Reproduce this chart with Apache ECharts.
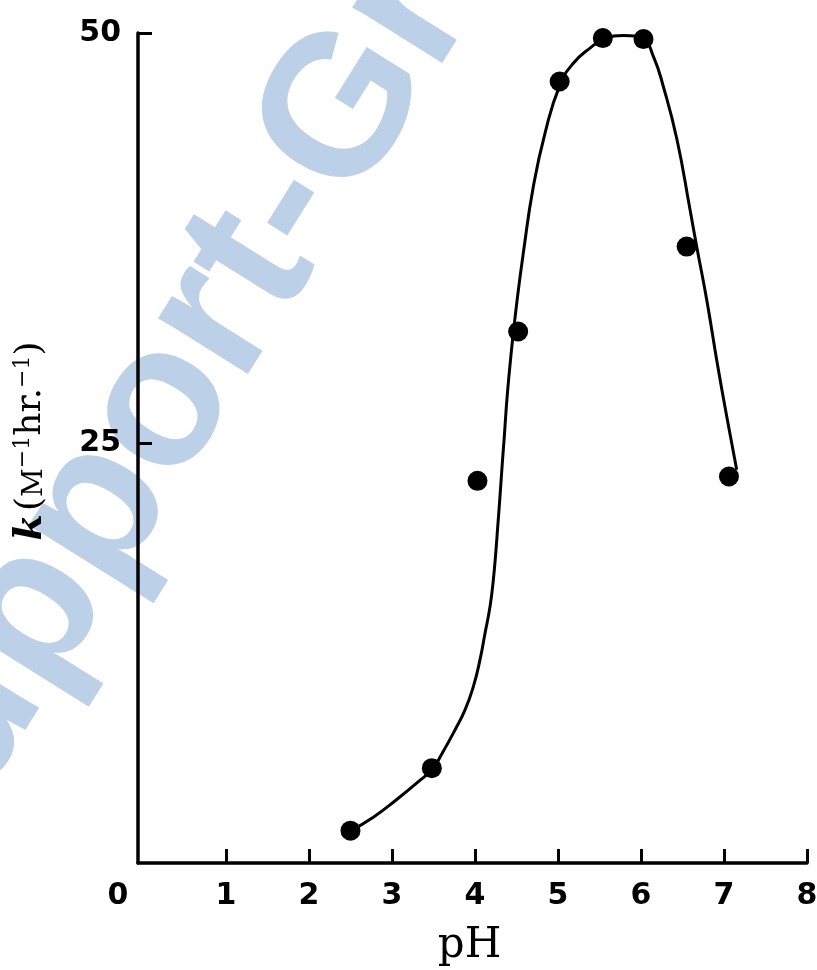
<!DOCTYPE html>
<html>
<head>
<meta charset="utf-8">
<script src="https://cdn.jsdelivr.net/npm/echarts@6/dist/echarts.min.js"></script>
<style>
html,body{margin:0;padding:0;background:#fff;}
#c{width:817px;height:970px;}
</style>
</head>
<body>
<div id="c"></div>
<script>
// measured points
const phPoints = [2.50, 3.48, 4.03, 4.52, 5.02, 5.54, 6.03, 6.55, 7.06];
const kPoints  = [1.37, 5.18, 22.70, 31.80, 47.04, 49.69, 49.63, 36.98, 22.96];
// fitted curve
const curvePH = [2.503, 2.775, 3.050, 3.340, 3.490, 3.600, 3.759, 3.880, 3.980, 4.060, 4.121, 4.181, 4.221, 4.250, 4.274, 4.301, 4.329, 4.353, 4.389, 4.440, 4.503, 4.582, 4.703, 4.844, 5.024, 5.185, 5.386, 5.546, 5.787, 6.028, 6.149, 6.269, 6.434, 6.591, 6.671, 6.792, 6.912, 7.033, 7.153];
const curveK  = [1.37, 2.19, 3.24, 4.45, 5.15, 6.05, 7.51, 8.73, 10.15, 11.78, 13.41, 15.03, 16.66, 18.29, 19.91, 21.74, 23.77, 25.40, 27.94, 30.68, 33.53, 36.58, 40.64, 43.90, 46.84, 48.16, 49.08, 49.59, 49.85, 49.59, 48.57, 46.74, 43.49, 39.22, 36.98, 33.73, 30.07, 26.62, 23.37];
// ticks
const xTickValues = [0, 1, 2, 3, 4, 5, 6, 7, 8];
const xTickLabels = ['0', '1', '2', '3', '4', '5', '6', '7', '8'];
const yTickValues = [25, 50];
const yTickLabels = ['25', '50'];
const xTitle = 'pH';
const watermarkText = 'Support-Group';

const chart = echarts.init(document.getElementById('c'), null, {renderer: 'canvas'});
const labelFont = {fontFamily: 'DejaVu Sans', fontWeight: 'bold', fontSize: 30, color: '#000'};

chart.setOption({
  backgroundColor: '#fff',
  animation: false,
  graphic: [{
    type: 'text',
    x: -136, y: 884,
    rotation: 58 * Math.PI / 180,
    z: -100,
    silent: true,
    style: {
      text: watermarkText,
      fontSize: 200,
      fontWeight: 'bold',
      fontFamily: 'Liberation Sans',
      fill: '#bcd1e8',
      align: 'left',
      verticalAlign: 'middle'
    }
  }],
  grid: {left: 138, right: 10, top: 33, bottom: 107, containLabel: false, outerBoundsMode: 'none'},
  xAxis: {
    type: 'value',
    min: -0.06, max: 8,
    splitLine: {show: false},
    axisLine: {show: true, onZero: false, lineStyle: {color: '#000', width: 3.5}},
    axisTick: {show: true, inside: true, length: 14, lineStyle: {color: '#000', width: 3}, customValues: xTickValues.slice(1)},
    axisLabel: Object.assign({
      margin: 18,
      customValues: xTickValues,
      formatter: function (v) {
        const i = xTickValues.indexOf(v);
        const t = i >= 0 ? xTickLabels[i] : '';
        return v === 0 ? '{z|' + t + '}' : t;
      },
      rich: {z: Object.assign({padding: [0, 50, 0, 0]}, labelFont)}
    }, labelFont),
    name: xTitle,
    nameLocation: 'middle',
    nameGap: 62,
    nameTextStyle: {fontFamily: 'DejaVu Serif', fontSize: 42, color: '#000', padding: [0, 6, 0, 0]}
  },
  yAxis: {
    type: 'value',
    min: -0.6, max: 50,
    splitLine: {show: false},
    axisLine: {show: true, onZero: false, lineStyle: {color: '#000', width: 3.5}},
    axisTick: {show: true, inside: true, length: 14, lineStyle: {color: '#000', width: 3}, customValues: yTickValues},
    axisLabel: Object.assign({
      margin: 17,
      customValues: yTickValues,
      formatter: function (v) {
        const i = yTickValues.indexOf(v);
        return i >= 0 ? yTickLabels[i] : '';
      }
    }, labelFont),
    name: '{k|k} {t|(}{sc|M}{sup|\u22121}{t|hr.}{sup|\u22121}{t|)}',
    nameLocation: 'middle',
    nameRotate: 90,
    nameGap: 88,
    nameTextStyle: {
      color: '#000',
      padding: [0, 0, 0, 14],
      rich: {
        k: {fontFamily: 'DejaVu Serif', fontStyle: 'italic', fontWeight: 'bold', fontSize: 38, color: '#000'},
        t: {fontFamily: 'DejaVu Serif', fontSize: 36, color: '#000'},
        sc: {fontFamily: 'DejaVu Serif', fontSize: 28, color: '#000', padding: [8, 0, 0, 0]},
        sup: {fontFamily: 'DejaVu Serif', fontSize: 22, color: '#000', padding: [0, 0, 16, 0]}
      }
    }
  },
  series: [
    {
      type: 'line',
      data: curvePH.map((x, i) => [x, curveK[i]]),
      smooth: 0.5,
      showSymbol: false,
      symbol: 'none',
      lineStyle: {color: '#000', width: 3},
      z: 2
    },
    {
      type: 'scatter',
      data: phPoints.map((x, i) => [x, kPoints[i]]),
      symbol: 'circle',
      symbolSize: 20,
      itemStyle: {color: '#000', opacity: 1},
      z: 3
    }
  ]
});
</script>
</body>
</html>
